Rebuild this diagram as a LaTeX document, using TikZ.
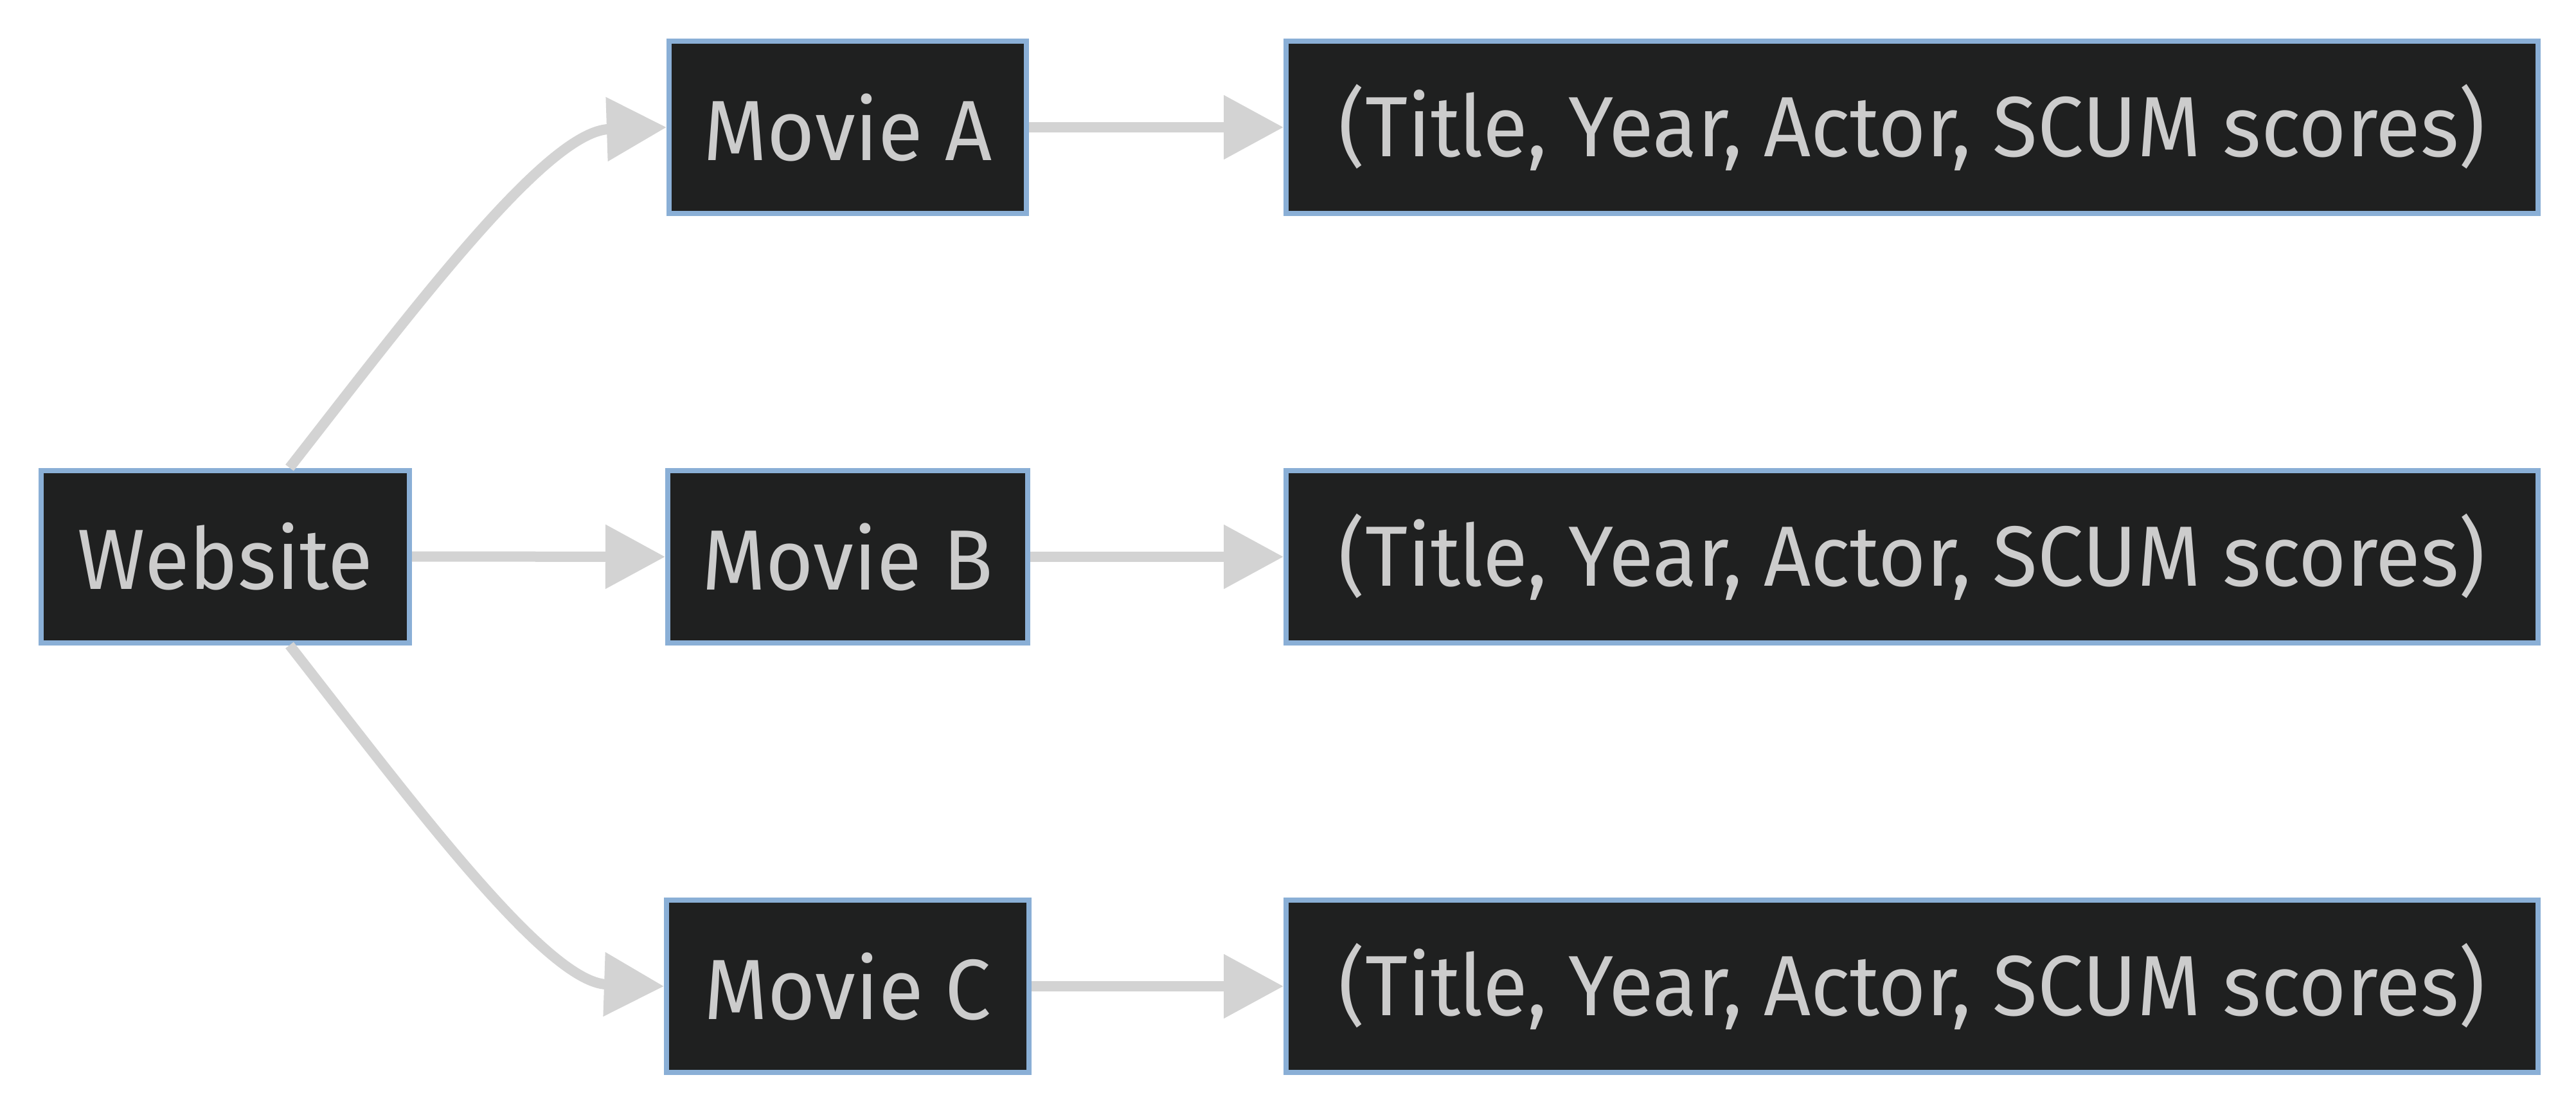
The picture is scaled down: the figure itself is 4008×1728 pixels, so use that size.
\documentclass[tikz,border=0pt]{standalone}
\usepackage{fontspec}
\setmainfont[FakeStretch=0.96]{Fira Sans}
\usetikzlibrary{arrows.meta,calc}
\definecolor{nodefill}{HTML}{1F2020}
\definecolor{nodeborder}{HTML}{8AAFD6}
\definecolor{edgecol}{HTML}{D3D3D3}
\definecolor{txtcol}{HTML}{CCCCCC}
\begin{document}
\begin{tikzpicture}[x=1pt,y=-1pt,
  box/.style={draw=nodeborder,line width=8pt,fill=nodefill,text=txtcol,
    inner sep=0pt,minimum height=268pt,
    font=\fontsize{133}{160}\selectfont},
  edge/.style={draw=edgecol,line width=16pt,-{Triangle[length=93pt,width=96pt]}}]
\useasboundingbox (0,0) rectangle (4008,1728);
\node[box,minimum width=573pt] (web) at (350.5,865.5) {Website};
\node[box,minimum width=556pt] (ma) at (1319,198) {Movie A};
\node[box,minimum width=560pt] (mb) at (1319,866) {Movie B};
\node[box,minimum width=564pt] (mc) at (1319,1534) {Movie C};
\node[box,minimum width=1948pt] (ta) at (2975,198) {(Title, Year, Actor, SCUM scores)};
\node[box,minimum width=1948pt] (tb) at (2975,866) {(Title, Year, Actor, SCUM scores)};
\node[box,minimum width=1948pt] (tc) at (2975,1534) {(Title, Year, Actor, SCUM scores)};
\draw[edge] ([xshift=100pt]web.north) .. controls (640,485) and (850,204) .. (ma.west);
\draw[edge] (web.east) -- (mb.west);
\draw[edge] ([xshift=100pt]web.south) .. controls (640,1246) and (850,1528) .. (mc.west);
\draw[edge] (ma.east) -- (ta.west);
\draw[edge] (mb.east) -- (tb.west);
\draw[edge] (mc.east) -- (tc.west);
\end{tikzpicture}
\end{document}
